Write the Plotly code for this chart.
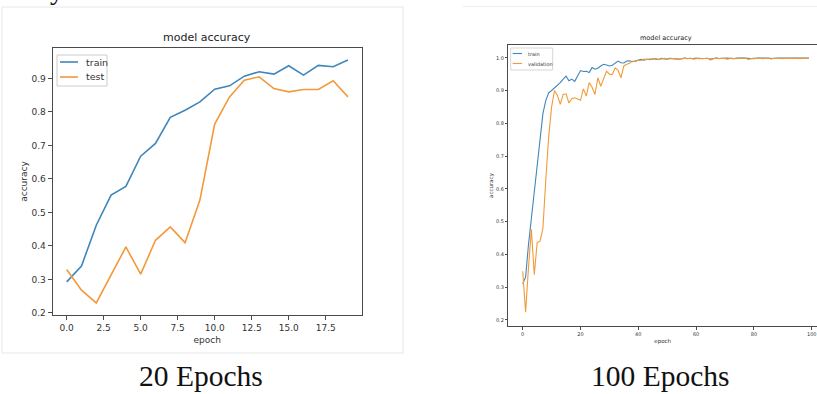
import plotly.graph_objects as go

# ---------------- data ----------------
epochs20 = list(range(20))
train20 = [0.293, 0.340, 0.462, 0.552, 0.578, 0.668, 0.706, 0.784, 0.805, 0.830,
           0.868, 0.878, 0.907, 0.920, 0.913, 0.938, 0.910, 0.939, 0.935, 0.955]
test20 = [0.330, 0.268, 0.230, 0.312, 0.397, 0.316, 0.417, 0.457, 0.410, 0.537,
          0.764, 0.845, 0.895, 0.905, 0.870, 0.860, 0.867, 0.867, 0.893, 0.845]

epochs100 = list(range(100))
train100 = [0.31, 0.33, 0.43, 0.51, 0.60, 0.69, 0.76, 0.83, 0.87, 0.893,
            0.90, 0.908, 0.915, 0.924, 0.935, 0.944, 0.93, 0.935, 0.928, 0.945,
            0.961, 0.958, 0.959, 0.955, 0.97, 0.965, 0.968, 0.975, 0.98, 0.978,
            0.975, 0.977, 0.985, 0.99, 0.985, 0.984, 0.99, 0.991, 0.988, 0.99,
            0.993,
            0.995, 0.993, 0.996, 0.994, 0.997, 0.996, 0.995, 0.998, 0.997, 0.996,
            0.998, 0.997, 0.998, 0.996, 0.997, 0.999, 0.998, 0.997, 0.998, 0.999,
            0.997, 0.998, 0.999, 0.998, 0.996, 0.998, 0.999, 0.998, 0.999, 0.998,
            0.999, 0.998, 0.997, 0.999, 0.998, 0.999, 0.999, 0.998, 0.999, 0.997,
            0.999, 0.998, 0.999, 0.999, 0.998, 0.999, 0.998, 0.999, 0.999, 0.998,
            0.999, 0.998, 0.999, 0.999, 0.998, 0.999, 0.999, 0.998, 0.999]
val100 = [0.348, 0.223, 0.36, 0.476, 0.338, 0.435, 0.44, 0.48, 0.63, 0.76,
          0.85, 0.90, 0.885, 0.858, 0.888, 0.89, 0.862, 0.875, 0.878, 0.873,
          0.87, 0.905, 0.883, 0.924, 0.91, 0.888, 0.939, 0.913, 0.935, 0.959,
          0.95, 0.949, 0.969, 0.962, 0.939, 0.975, 0.98, 0.983, 0.99, 0.988,
          0.993,
          0.992, 0.996, 0.994, 0.997, 0.995, 0.998, 0.994, 0.997, 0.998, 0.996,
          0.999, 0.997, 0.998, 0.995, 0.998, 0.999, 0.997, 0.999, 0.996, 0.998,
          0.999, 0.997, 0.998, 0.999, 0.993, 0.998, 0.999, 0.997, 0.999, 0.998,
          0.996, 0.999, 0.998, 0.997, 0.999, 0.998, 0.999, 0.995, 0.998, 0.999,
          0.998, 0.999, 0.997, 0.998, 0.999, 0.996, 0.999, 0.998, 0.999, 0.997,
          0.999, 0.998, 0.999, 0.998, 0.999, 0.997, 0.999, 0.998, 0.999]

left_names = ["train", "test"]
right_names = ["train", "validation"]
captions = ["20 Epochs", "100 Epochs"]
chart_title = "model accuracy"

# ---------------- styling ----------------
W, H = 817, 394
BLUE = "#3f86bb"
ORANGE = "#f29a3a"
AX = "#4a4a4a"
TXT = "#333333"
SANS = "DejaVu Sans"
SERIF = "Liberation Serif"


def px(x):
    return x / W


def py(y):
    return 1 - y / H


fig = go.Figure()
fig.add_trace(go.Scatter(x=epochs20, y=train20, mode="lines", name=left_names[0],
                         line=dict(color=BLUE, width=1.6), xaxis="x", yaxis="y", showlegend=False))
fig.add_trace(go.Scatter(x=epochs20, y=test20, mode="lines", name=left_names[1],
                         line=dict(color=ORANGE, width=1.6), xaxis="x", yaxis="y", showlegend=False))
fig.add_trace(go.Scatter(x=epochs100, y=train100, mode="lines", name=right_names[0],
                         line=dict(color=BLUE, width=1.1), xaxis="x2", yaxis="y2", showlegend=False))
fig.add_trace(go.Scatter(x=epochs100, y=val100, mode="lines", name=right_names[1],
                         line=dict(color=ORANGE, width=1.1), xaxis="x2", yaxis="y2", showlegend=False))

axis_common = dict(showgrid=False, zeroline=False, showline=True, linecolor=AX, linewidth=1,
                   ticks="outside", tickcolor=AX, automargin=False)

fig.update_layout(
    width=W, height=H,
    margin=dict(l=0, r=0, t=0, b=0),
    paper_bgcolor="white", plot_bgcolor="white",
    showlegend=False,
    xaxis=dict(domain=[px(52.6), px(362)], range=[-0.95, 19.95], dtick=2.5, tick0=0,
               tickformat=".1f", ticklen=4, mirror=True,
               tickfont=dict(family=SANS, size=9, color=TXT),
               title=dict(text="epoch", font=dict(family=SANS, size=9, color=TXT), standoff=4),
               anchor="y", **axis_common),
    yaxis=dict(domain=[py(315), py(48)], range=[0.194, 0.991], dtick=0.1, tick0=0,
               tickformat=".1f", ticklen=4, mirror=True,
               tickfont=dict(family=SANS, size=9, color=TXT),
               title=dict(text="accuracy", font=dict(family=SANS, size=9, color=TXT), standoff=2),
               anchor="x", **axis_common),
    xaxis2=dict(domain=[px(508.4), 1.0], range=[-4.95, 101.83], dtick=20, tick0=0,
                ticklen=2.5, mirror=True,
                tickfont=dict(family=SANS, size=5, color=TXT),
                title=dict(text="epoch", font=dict(family=SANS, size=5.5, color=TXT), standoff=3),
                anchor="y2", **axis_common),
    yaxis2=dict(domain=[py(326), py(45)], range=[0.181, 1.039], dtick=0.1, tick0=0,
                tickformat=".1f", ticklen=2.5, mirror=False,
                tickfont=dict(family=SANS, size=5, color=TXT),
                title=dict(text="accuracy", font=dict(family=SANS, size=5.5, color=TXT), standoff=2),
                anchor="x2", **axis_common),
)

shapes = []
annotations = []

# faint frames of the two screenshots
shapes.append(dict(type="rect", xref="paper", yref="paper", x0=px(2), x1=px(403), y0=py(353), y1=py(7),
                   line=dict(color="#e6e6e6", width=1), layer="below"))
shapes.append(dict(type="line", xref="paper", yref="paper", x0=px(463), x1=1, y0=py(6.5), y1=py(6.5),
                   line=dict(color="#eeeeee", width=1), layer="below"))

# titles
annotations.append(dict(text=chart_title, x=px(207), y=py(38), xref="paper", yref="paper",
                        showarrow=False, xanchor="center", yanchor="middle",
                        font=dict(family=SANS, size=11, color="#222")))
annotations.append(dict(text=chart_title, x=px(666), y=py(38.5), xref="paper", yref="paper",
                        showarrow=False, xanchor="center", yanchor="middle",
                        font=dict(family=SANS, size=6.5, color="#222")))

# legend (left)
shapes.append(dict(type="rect", xref="paper", yref="paper", x0=px(57), x1=px(107), y0=py(86), y1=py(55),
                   line=dict(color="#cccccc", width=1), fillcolor="rgba(255,255,255,0.85)"))
for i, (name, col) in enumerate(zip(left_names, [BLUE, ORANGE])):
    yy = 62 + 15 * i
    shapes.append(dict(type="line", xref="paper", yref="paper", x0=px(60), x1=px(78), y0=py(yy), y1=py(yy),
                       line=dict(color=col, width=1.6)))
    annotations.append(dict(text=name, x=px(84), y=py(yy), xref="paper", yref="paper", showarrow=False,
                            xanchor="left", yanchor="middle", font=dict(family=SANS, size=9.5, color=TXT)))

# legend (right)
shapes.append(dict(type="rect", xref="paper", yref="paper", x0=px(510.7), x1=px(552.7), y0=py(70), y1=py(48),
                   line=dict(color="#cccccc", width=0.8), fillcolor="rgba(255,255,255,0.85)"))
for i, (name, col) in enumerate(zip(right_names, [BLUE, ORANGE])):
    yy = 53.5 + 10 * i
    shapes.append(dict(type="line", xref="paper", yref="paper", x0=px(512.7), x1=px(522), y0=py(yy), y1=py(yy),
                       line=dict(color=col, width=1.1)))
    annotations.append(dict(text=name, x=px(525.5), y=py(yy), xref="paper", yref="paper", showarrow=False,
                            xanchor="left", yanchor="middle", font=dict(family=SANS, size=5, color=TXT)))

# captions
annotations.append(dict(text=captions[0], x=px(201), y=py(376), xref="paper", yref="paper", showarrow=False,
                        xanchor="center", yanchor="middle", font=dict(family=SERIF, size=29.5, color="#111")))
annotations.append(dict(text=captions[1], x=px(660), y=py(376), xref="paper", yref="paper", showarrow=False,
                        xanchor="center", yanchor="middle", font=dict(family=SERIF, size=29.5, color="#111")))

# fragment of the previous line of text, cut off at the top
annotations.append(dict(text="y", x=px(57), y=py(7), xref="paper", yref="paper", showarrow=False,
                        xanchor="center", yanchor="bottom", font=dict(family=SERIF, size=28, color="#111")))

fig.update_layout(shapes=shapes, annotations=annotations)

fig.write_html("out.html", config={"displayModeBar": False},
               post_script="document.body.style.margin='0';")
